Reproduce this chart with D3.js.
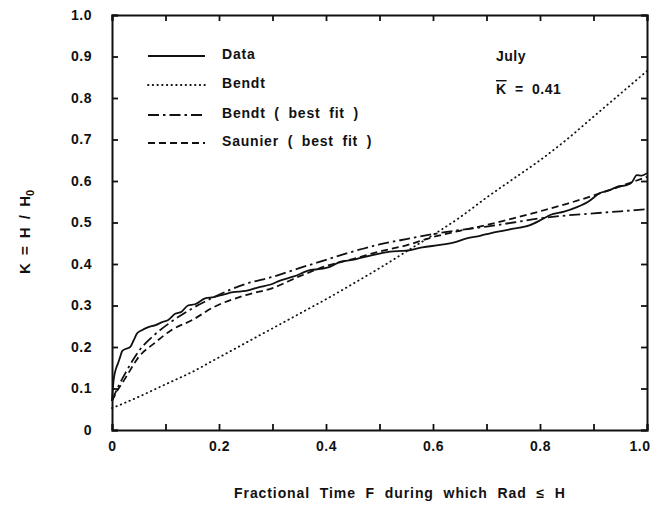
<!DOCTYPE html>
<html lang="en">
<head>
<meta charset="utf-8">
<title>K vs fractional time</title>
<script src="https://d3js.org/d3.v7.min.js"></script>
<style>
body { margin: 0; background: #fff; }
text { font-family: "Liberation Sans", Arial, sans-serif; font-weight: bold; fill: #111; }
</style>
</head>
<body>
<script>
// measured data (solid curve)
var dataF = [0, 0.003, 0.008, 0.011, 0.015, 0.019, 0.025, 0.034, 0.04, 0.047,
  0.055, 0.068, 0.08, 0.094, 0.105, 0.118, 0.13, 0.142, 0.155, 0.174,
  0.19, 0.21, 0.226, 0.25, 0.277, 0.295, 0.314, 0.34, 0.37, 0.39,
  0.407, 0.426, 0.45, 0.475, 0.5, 0.52, 0.55, 0.58, 0.613, 0.64,
  0.663, 0.688, 0.707, 0.73, 0.75, 0.78, 0.8, 0.819, 0.845, 0.869,
  0.89, 0.912, 0.93, 0.944, 0.962, 0.972, 0.981, 0.99, 1.0];
var dataK = [0.07, 0.12, 0.15, 0.16, 0.175, 0.19, 0.195, 0.2, 0.215, 0.233,
  0.24, 0.248, 0.252, 0.26, 0.265, 0.28, 0.285, 0.3, 0.303, 0.317,
  0.32, 0.327, 0.332, 0.335, 0.345, 0.35, 0.36, 0.37, 0.385, 0.388,
  0.393, 0.405, 0.41, 0.418, 0.425, 0.43, 0.432, 0.44, 0.446, 0.452,
  0.462, 0.468, 0.474, 0.48, 0.485, 0.493, 0.505, 0.518, 0.526, 0.537,
  0.55, 0.571, 0.578, 0.586, 0.59, 0.597, 0.614, 0.613, 0.619];

// model curves share one F grid
var modelF = [0, 0.01, 0.025, 0.05, 0.08, 0.11, 0.15, 0.19, 0.25, 0.3, 0.35, 0.4,
  0.45, 0.5, 0.55, 0.6, 0.65, 0.7, 0.75, 0.8, 0.85, 0.9, 0.95, 1.0];
var bendtK = [0.053, 0.058, 0.066, 0.08, 0.098, 0.116, 0.14, 0.168, 0.21, 0.245, 0.28, 0.315,
  0.352, 0.39, 0.43, 0.47, 0.512, 0.56, 0.605, 0.65, 0.7, 0.755, 0.81, 0.865];
var bendtFitK = [0.07, 0.1, 0.137, 0.19, 0.23, 0.26, 0.293, 0.32, 0.352, 0.369, 0.39, 0.41,
  0.43, 0.447, 0.46, 0.472, 0.482, 0.49, 0.5, 0.51, 0.517, 0.522, 0.527, 0.532];
var saunierK = [0.07, 0.095, 0.125, 0.176, 0.21, 0.24, 0.265, 0.296, 0.325, 0.342, 0.37, 0.395,
  0.412, 0.43, 0.445, 0.465, 0.48, 0.494, 0.51, 0.527, 0.545, 0.565, 0.587, 0.61];

var xTicks = [0, 0.1, 0.2, 0.3, 0.4, 0.5, 0.6, 0.7, 0.8, 0.9, 1.0];
var yTicks = [0, 0.1, 0.2, 0.3, 0.4, 0.5, 0.6, 0.7, 0.8, 0.9, 1.0];
var legendNames = ["Data", "Bendt", "Bendt ( best fit )", "Saunier ( best fit )"];

var w = 653, h = 512;
var mLeft = 112, mRight = 647, mTop = 15, mBottom = 430;

var svg = d3.select("body").append("svg")
  .attr("width", w)
  .attr("height", h);

var x = d3.scaleLinear().domain([0, 1]).range([mLeft, mRight]);
var y = d3.scaleLinear().domain([0, 1]).range([mBottom, mTop]);

var fmt = function(d) { return d === 0 ? "0" : d.toFixed(1); };

// axes, ticks pointing inward
var gx = svg.append("g").attr("transform", "translate(0," + mBottom + ")")
  .call(d3.axisBottom(x).tickValues(xTicks).tickSize(-6).tickPadding(11)
    .tickFormat(function(d, i) { return i % 2 === 0 ? fmt(d) : ""; }));
svg.append("g").attr("transform", "translate(0," + mTop + ")")
  .call(d3.axisTop(x).tickValues(xTicks).tickSize(-6).tickFormat(""));
var gy = svg.append("g").attr("transform", "translate(" + mLeft + ",0)")
  .call(d3.axisLeft(y).tickValues(yTicks).tickSize(-6).tickPadding(20).tickFormat(fmt));
svg.append("g").attr("transform", "translate(" + mRight + ",0)")
  .call(d3.axisRight(y).tickValues(yTicks).tickSize(-6).tickFormat(""));

svg.selectAll(".domain").attr("stroke", "#111").attr("stroke-width", 2);
svg.selectAll(".tick line").attr("stroke", "#111").attr("stroke-width", 1.8);
svg.selectAll(".tick text").style("font-size", "14px").style("letter-spacing", "0.5px").attr("fill", "#111");
// last x label sits against the page edge
gx.selectAll(".tick text").filter(function(d) { return d === 1; })
  .attr("text-anchor", "end").attr("dx", 3);

// curves
var line = d3.line()
  .x(function(d) { return x(d[0]); })
  .y(function(d) { return y(d[1]); })
  .curve(d3.curveMonotoneX);

var series = [
  { f: dataF, k: dataK, dash: null, cap: "butt" },
  { f: modelF, k: bendtK, dash: "0.5,4.2", cap: "round" },
  { f: modelF, k: bendtFitK, dash: "11,4,2.5,4", cap: "butt" },
  { f: modelF, k: saunierK, dash: "7,4", cap: "butt" }
];

series.forEach(function(s) {
  var pts = s.f.map(function(f, i) { return [f, s.k[i]]; });
  svg.append("path")
    .datum(pts)
    .attr("d", line)
    .attr("fill", "none")
    .attr("stroke", "#111")
    .attr("stroke-width", 1.8)
    .attr("stroke-linecap", s.cap)
    .attr("stroke-dasharray", s.dash);
});

// legend
var legY = [56, 85, 115, 143];
var leg = svg.selectAll(".leg")
  .data(series)
  .enter().append("g")
  .attr("transform", function(d, i) { return "translate(148," + legY[i] + ")"; });
leg.append("line")
  .attr("x1", 0).attr("x2", 57)
  .attr("stroke", "#111")
  .attr("stroke-width", 1.8)
  .attr("stroke-linecap", function(d) { return d.cap; })
  .attr("stroke-dasharray", function(d) { return d.dash; });
leg.append("text")
  .attr("x", 74).attr("y", 3)
  .style("font-size", "14px")
  .style("letter-spacing", "0.8px")
  .style("word-spacing", "4px")
  .text(function(d, i) { return legendNames[i]; });

// annotation
svg.append("text").attr("x", 496).attr("y", 61)
  .style("font-size", "14px").style("letter-spacing", "0.5px").text("July");
var kbar = svg.append("text").attr("x", 496).attr("y", 94)
  .style("font-size", "14px").style("letter-spacing", "0.5px").style("word-spacing", "4px");
kbar.append("tspan").style("text-decoration", "overline").text("K");
kbar.append("tspan").text(" = 0.41");

// axis titles
svg.append("text")
  .attr("x", 400).attr("y", 498)
  .attr("text-anchor", "middle")
  .style("font-size", "14px")
  .style("letter-spacing", "0.9px")
  .style("word-spacing", "5px")
  .text("Fractional Time F  during which Rad \u2264 H");

var yt = svg.append("text")
  .attr("transform", "translate(30,232) rotate(-90)")
  .attr("text-anchor", "middle")
  .style("font-size", "15px")
  .style("word-spacing", "4px");
yt.append("tspan").text("K = H / H");
yt.append("tspan").attr("dy", 4).style("font-size", "11px").text("0");
</script>
</body>
</html>
